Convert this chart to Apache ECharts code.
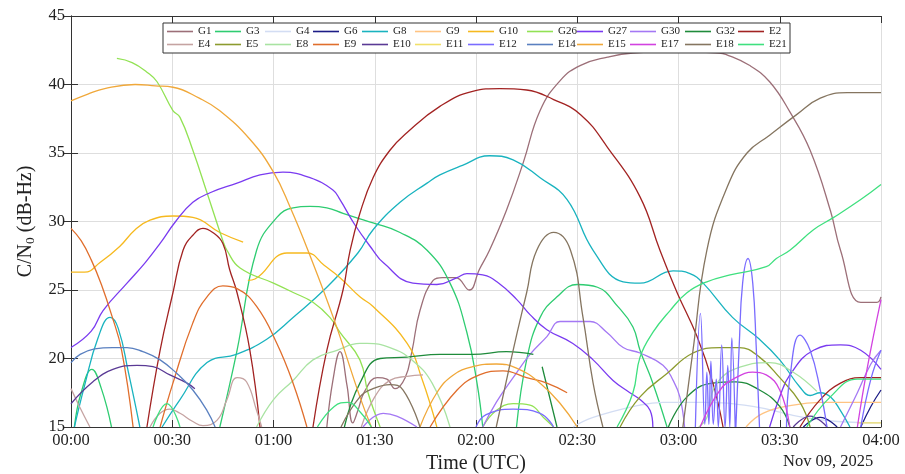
<!DOCTYPE html>
<html><head><meta charset="utf-8">
<script src="https://cdn.jsdelivr.net/npm/echarts@6/dist/echarts.min.js"></script>
<style>html,body{margin:0;padding:0;background:#fff;overflow:hidden}#c{width:905px;height:474px}</style>
</head><body><div id="c"></div><script>
// ---- data: time in minutes after 00:00 UTC, C/N0 in dB-Hz; each satellite = list of track segments ----
const xTicks = ['00:00','00:30','01:00','01:30','02:00','02:30','03:00','03:30','04:00'];
const yTicks = [15,20,25,30,35,40,45];
const satNames = ['G1','G3','G4','G6','G8','G9','G10','G26','G27','G30','G32','E2',
                  'E4','E5','E8','E9','E10','E11','E12','E14','E15','E17','E18','E21'];

const G1 = [[[75.8,15],[77.6,18.4],[79.7,20.5],[81.8,18.0],[83.5,15.3],[85,16.2],[87,17.6],[90.7,18.6],[93.6,18.5],[96,17.8],[99,18.6],[101,20.5],[103.4,23.5],[107.3,25.7],[110,25.9],[114,25.9],[118,25.0],[121,26.5],[124,27.9],[129,30.8],[134,34.3],[139,38.1],[145,40.3],[151,41.4],[159,42.0],[166.5,42.3],[180,42.4],[192,42.3],[194,42.2],[201,41.4],[207,40.2],[213,38.0],[219,35.2],[225,30.8],[228,27.9],[234,24.1],[238.8,24.1],[240,24.5]]];
const G3 = [[[1,15],[3,17.5],[6.2,19.2],[9,17.8],[12,15]],
            [[44.1,15],[49.2,20.6],[55,27.9],[61,30.3],[65.8,31.0],[70.8,31.1],[75.8,31.0],[80.6,30.6],[85.6,30.2],[89.5,29.9],[97.5,29.2],[105.5,27.9],[112.3,25.5],[117.3,21.9],[120.3,18.2],[122,15]],
            [[132,15],[135,19.9],[139,23.0],[144,24.5],[150,25.4],[156,25.2],[162,23.8],[166.5,22.3],[168.6,20.6],[172.4,18.2],[176.6,15]]];
const G4 = [[[148.8,15],[154.7,15.7],[168.6,16.6],[175.4,16.8],[187,16.8],[202,16.5],[217,15.7],[227,15.4],[240,15.3]]];
const G6 = [[[217,15],[222,15.7],[227,15]],[[234,15],[237,16.5],[240,17.7]]];
const G8 = [[[1,15],[4,18],[8,21.5],[11.6,23.0],[14,22.2],[17,19],[20.4,15]],
            [[27,15],[32.3,17.0],[40.3,19.7],[49,20.3],[58,21.4],[65.8,23.0],[75.8,25.2],[85,27.7],[89.5,29.4],[97.5,31.4],[105.5,32.8],[109.3,33.4],[116,34.1],[124,34.8],[131,34.5],[139,33.2],[147,31.6],[154.7,27.9],[163.6,25.6],[168.6,25.5],[178.4,26.4],[183.4,26.2],[187.3,25.5],[196,23.0],[204,21.4],[210,19.9],[216,17.9],[219,17.3],[222,17.5],[225,17.2],[228,16.2],[230.8,15]]];
const G9 = [[[200,15],[205,16],[214,16.6],[222,16.8],[232,16.8],[240,16.8]]];
const G10 = [[[0,26.3],[4,26.3],[8.6,27.0],[14.5,28.2],[19,29.4],[23.4,30.1],[30.2,30.4],[36.1,30.3],[44.1,29.2],[51,28.5]],
             [[52.4,25.7],[54.5,25.8],[64,27.7],[70,27.7],[75,26.8],[79.7,25.9],[85.6,24.5],[89.5,23.8],[99.6,21.1],[104,18.5],[108.4,15]]];
const G26 = [[[13.6,41.9],[18.1,41.6],[22.5,40.9],[25.5,40.2],[30.2,38.1],[32.3,37.6],[36.1,35.2],[40.3,32.1],[45,28.6],[46.2,27.9],[50.1,26.6],[60,25.5],[66,24.8],[71.7,24.1],[76.7,23.0],[79.7,21.9],[85.6,19.9],[88,17.5],[91.6,15]],
             [[122,15],[126,16.2],[131,16.7],[136,16.6],[140,15.7],[143,15]]];
const G27 = [[[0,20.8],[6,22.0],[9.5,23.5],[16.6,25.5],[22,27],[26.4,28.4],[31,30],[36.1,31.4],[41.2,32.1],[49.2,32.8],[56,33.4],[62.8,33.6],[70.8,33.2],[77.6,32.3],[79.7,31.6],[84,29.8],[89.5,27.9],[92.5,27.0],[101.3,25.5],[108.4,25.4],[114.4,25.9],[117.3,26.2],[122,26.1],[126.2,25.6],[132.1,24.3],[136,23.2],[141,22.1],[148.7,21.1],[154.7,19.9],[160.6,18.4],[165.6,17.5],[168.6,17.0],[171.6,16.2],[172.4,15]],
             [[207,15],[210,17.2],[213,18.8],[220,20.6],[228,21.0],[234,20.6],[240,19.2]]];
const G30 = [[[86.5,15],[92.5,16.0],[96.5,15.8],[102.5,15]],
             [[122,15],[126,16.8],[131,18.6],[136,20.3],[141,21.6],[144.9,22.7],[150.8,22.7],[153.8,22.7],[158.8,21.9],[163.6,20.8],[168.6,20.4],[175.4,19.5],[178.4,18.4],[180.4,17.2],[181.8,15]],
             [[228,15],[233,17.5],[237,19.6],[240,20.6]]];
const G32 = [[[81,15],[85.6,18.2],[91.6,20.0],[99.6,20.1],[109.3,20.3],[119,20.3],[129,20.5],[137,20.3]],
             [[139.6,19.4],[144,15]],
             [[177,15],[182.5,17.2],[190,18.2],[197,18.3],[204,17.7],[210,16.5],[213,15]]];
const E2 = [[[22.5,15],[26.4,20.6],[30.2,24.8],[33.2,27.9],[36.1,29.0],[39.1,29.5],[42,29.2],[45,28.4],[47,26.5],[49.2,24.8],[53,20.6],[56,15]],
            [[71.7,15],[75.8,20.6],[80.6,25.0],[82.7,27.9],[85.6,30.6],[89.5,33.2],[94.5,35.2],[99.6,36.5],[109.3,38.4],[119,39.5],[127,39.7],[135,39.6],[143,38.9],[151,37.8],[159,35.4],[168.6,31.8],[174.5,27.9],[179.6,24.8],[185.5,21.6],[190.2,18.2],[193.2,15]],
            [[216,15],[222,17],[228,18.2],[234,18.6],[240,18.6]]];
const E4 = [[[0,17.8],[2.5,16.5],[5.6,15]],
            [[23.4,15],[26.4,16.0],[29.3,16.3],[32.3,16.0],[36.1,15.4],[39.1,15.1],[43.3,15.5],[46.2,17.0],[49.2,18.6],[52,18.3],[55,16.2],[56.5,15]],
            [[86,15],[90,17.2],[94.5,18.4],[99.6,18.7],[104.3,18.8]]];
const E5 = [[[162.7,15],[168.6,17.2],[176.6,18.9],[184.3,20.4],[192.3,20.8],[198,20.8],[204,20.1],[210,18.6],[216,16.8],[219,15]]];
const E8 = [[[55,15],[60,17.0],[65.8,18.4],[71.7,19.9],[78.8,20.6],[85.6,21.1],[87.7,21.1],[94.5,20.8],[101,19.9],[107,18.2],[112.3,15]],
            [[186,15],[188.4,15.7],[191.4,18.2],[200,19.5],[207,19.7],[214,19.0],[221,17.6]]];
const E9 = [[[0,29.5],[3,28.6],[6,27.2],[9,25.4],[12,23.2],[15,20.6],[18.4,15]],
            [[26.4,15],[30.2,18.2],[36.1,22.6],[40.3,24.5],[45,25.3],[49.2,25.1],[55,23.8],[61,21.1],[65.8,18.2],[69.9,15]],
            [[106.4,15],[114.4,17.7],[121,18.8],[128,19.1],[135,18.6],[141,18.2],[147,17.5]]];
const E10 = [[[0,16.7],[6.5,18.3],[12.4,19.2],[19.6,19.5],[24.3,19.4],[29.3,18.8],[34.4,18.2],[36.7,17.8]],
             [[214,15],[219,15.8],[224,15]]];
const E11 = [[[233,15.3],[240,15.3]]];
const E12 = [[[120,15],[123,15.9],[131,16.3],[139,16.0],[143,15]],
             [[185,15],[186.5,23.3],[187.8,15.2],[188.4,19],[189,15.2],[189.6,19.8],[190.3,15.2],[191.2,18.5],[191.8,15],[192.8,21],[193.8,15],[194.6,19.5],[195.2,15],[195.8,21.5],[196.8,15]],
             [[197,15],[198,21],[199,25.5],[200.6,27.3],[202,25.5],[203,21],[204,15]],
             [[212,15],[213,18.6],[216,21.7],[219,20.6],[222,17.7],[224,15]],
             [[234,15],[237,18.5],[240,20.6]]];
const E14 = [[[0,19.7],[2.7,20.3],[7,20.7],[12.4,20.8],[16.6,20.8],[21.3,20.5],[26.4,19.9],[31.4,18.9],[36.1,17.7],[40.3,16.2],[42.7,15]]];
const E15 = [[[0,38.8],[5,39.3],[10,39.7],[19,40.0],[25,39.9],[30.2,39.8],[38,39.0],[44,38.1],[53,36],[60,33.6],[65,31.0],[70.2,27.9],[78,22.8],[85.6,17.2],[89,15]],
             [[103.4,15],[108.4,17.5],[113.3,18.8],[119,19.4],[126,19.6],[132,19.3],[139,18.2],[145,16.7],[150,15]]];
const E17 = [[[186.4,15],[192.3,17.7],[197,18.6],[202,19.0],[206,18.8],[210,17.7],[213,15]],
             [[233,15],[236,19.4],[240,24.3]]];
const E18 = [[[80,15],[85.6,17.2],[89.5,17.8],[94.5,18.1],[98.4,17.7],[103.4,15]],
             [[126,15],[131,20.6],[135,24.8],[138,27.9],[143,29.2],[148,27.9],[151.7,23.0],[154.7,18.2],[157.6,15]],
             [[181.3,15],[184.3,20.6],[188.4,27.9],[194.4,32.5],[200.3,35.0],[207,36.3],[215,37.8],[222,39.0],[230,39.4],[234,39.4],[240,39.4]]];
const E21 = [[[24.3,15],[28.4,16.7],[32.3,15]],
             [[73,15],[78,16.5],[82,16.8],[86,16.0],[89,15]],
             [[161.8,15],[166.5,17.5],[168.6,20.1],[172.4,21.9],[177.5,23.5],[182.5,24.8],[188.4,25.6],[195.3,26.1],[206,26.7],[209,27.3],[213,27.9],[220,29.4],[226,30.3],[234,31.6],[240,32.7]],
             [[218,15],[225,17.2],[233,18.5],[240,18.5]]];

const satData = {G1,G3,G4,G6,G8,G9,G10,G26,G27,G30,G32,E2,E4,E5,E8,E9,E10,E11,E12,E14,E15,E17,E18,E21};

// ---- styles ----
const satColors = ['#9c6f78','#2ecc71','#d3ddf3','#1c1c86','#19b3bf','#ffc482','#f6b91f','#92e254','#7a3bf0','#a478f4','#1f8b3b','#a22322',
                   '#c5a3a2','#8c9b2e','#a9e3a2','#e06e2c','#5a3a95','#f1e06a','#7a6cff','#5a80c0','#f0a83a','#d242e0','#857560','#3fe07f'];
const legendColX = [167,215,265,313,362,415,468,527,577,630,685,738];
const FONT = 'Liberation Serif';

function build(segs){
  const out=[];
  segs.forEach((s,i)=>{
    if(i>0){ const a=segs[i-1][segs[i-1].length-1][0]; out.push([(a+s[0][0])/2,'-']); }
    s.forEach(p=>out.push(p));
  });
  return out;
}
function fmt(v){ const h=Math.floor(v/60), m=v%60; return String(h).padStart(2,'0')+':'+String(m).padStart(2,'0'); }

const series = satNames.map((n,i)=>({
  name:n, type:'line', data:build(satData[n]), showSymbol:false, symbol:'none',
  smooth:0.45, connectNulls:false, clip:true,
  lineStyle:{width:1.3, color:satColors[i]}, itemStyle:{color:satColors[i]},
  emphasis:{disabled:true}, animation:false
}));

const legends = satNames.map((n,i)=>({
  orient:'horizontal', left:legendColX[i%12], top:(i<12?26:39), icon:'rect', itemWidth:26, itemHeight:1.6, itemGap:0, padding:0,
  data:[n], selectedMode:false, z:20,
  textStyle:{fontFamily:FONT, fontSize:11, color:'#222'}
}));

const chart = echarts.init(document.getElementById('c'), null, {renderer:'canvas'});
chart.setOption({
  animation:false,
  backgroundColor:'#fff',
  grid:{left:71, right:24, top:16, bottom:47, containLabel:false, outerBoundsMode:'none'},
  xAxis:[{
    type:'value', min:0, max:240, interval:30,
    name:'Time (UTC)', nameLocation:'middle', nameGap:25,
    nameTextStyle:{fontFamily:FONT, fontSize:20, color:'#222'},
    axisLine:{lineStyle:{color:'#333', width:1}},
    axisTick:{inside:true, length:7, lineStyle:{color:'#333'}},
    axisLabel:{formatter:v=>fmt(v), fontFamily:FONT, fontSize:16.5, color:'#222', margin:5},
    splitLine:{show:true, lineStyle:{color:'#dedede', width:1}}
  },{
    type:'value', min:0, max:240, interval:30, position:'top',
    axisLine:{show:true, lineStyle:{color:'#333', width:1}},
    axisTick:{show:true, inside:true, length:7, lineStyle:{color:'#333'}},
    axisLabel:{show:false}, splitLine:{show:false}
  }],
  yAxis:[{
    type:'value', min:15, max:45, interval:5,
    name:'{a|C/N}{s|0}{a| (dB-Hz)}', nameLocation:'middle', nameGap:26, nameRotate:90,
    nameTextStyle:{rich:{a:{fontFamily:FONT, fontSize:20, color:'#222'}, s:{fontFamily:FONT, fontSize:13.5, color:'#222', padding:[9,0,0,0]}}},
    axisLine:{show:true, lineStyle:{color:'#333', width:1}},
    axisTick:{show:true, inside:true, length:7, lineStyle:{color:'#333'}},
    axisLabel:{fontFamily:FONT, fontSize:16.5, color:'#222', margin:6},
    splitLine:{show:true, lineStyle:{color:'#dedede', width:1}}
  },{
    type:'value', min:15, max:45, interval:5, position:'right',
    axisLine:{show:true, lineStyle:{color:'#333', width:1}},
    axisTick:{show:true, inside:true, length:7, lineStyle:{color:'#333'}},
    axisLabel:{show:false}, splitLine:{show:false}
  }],
  legend: legends,
  graphic:[
    {type:'rect', shape:{x:163, y:23, width:627, height:30}, style:{fill:'#fff', stroke:'#333', lineWidth:1}, z:15},
    {type:'text', left:783, top:453, style:{text:'Nov 09, 2025', fontFamily:FONT, fontSize:16.5, fill:'#222'}, z:20}
  ],
  series: series
});
</script></body></html>
